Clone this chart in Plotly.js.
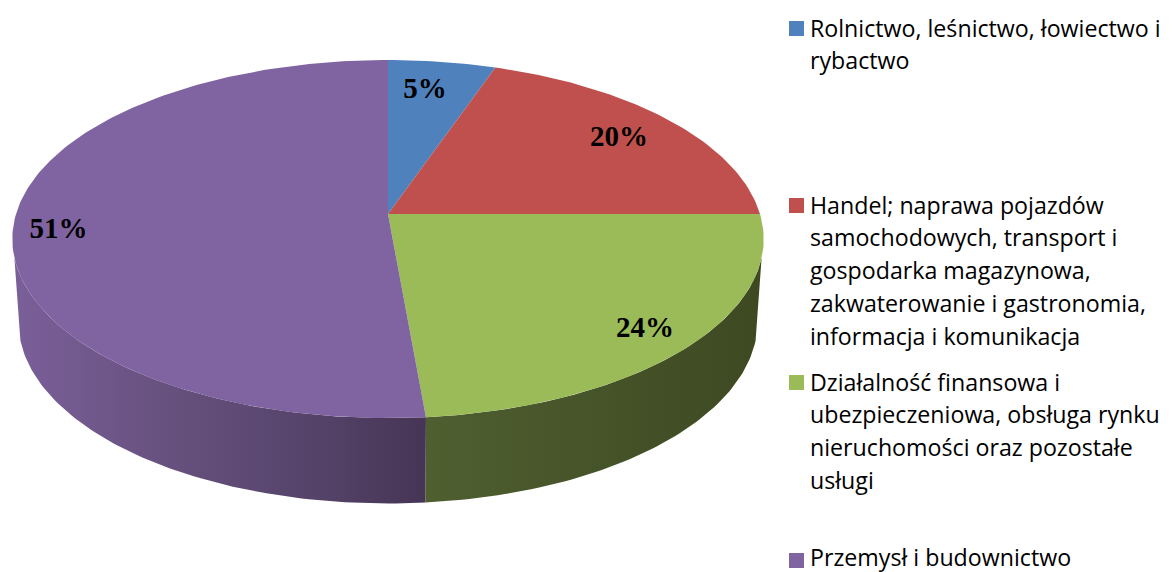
<!DOCTYPE html>
<html>
<head>
<meta charset="utf-8">
<script src="https://cdn.plot.ly/plotly-3.0.1.min.js"></script>
<style>html,body{margin:0;padding:0;background:#fff}#chart{width:1173px;height:572px}</style>
</head>
<body>
<div id="chart"></div>
<script>
// Data
var sectors = ["Rolnictwo, leśnictwo, łowiectwo i rybactwo",
  "Handel; naprawa pojazdów samochodowych, transport i gospodarka magazynowa, zakwaterowanie i gastronomia, informacja i komunikacja",
  "Działalność finansowa i ubezpieczeniowa, obsługa rynku nieruchomości oraz pozostałe usługi",
  "Przemysł i budownictwo"];
var shares = [5.3, 19.7, 23.6, 51.4];
var colors = ["#4f81bd", "#c0504d", "#9bbb59", "#8064a2"];
var legendLines = [
  ["Rolnictwo, leśnictwo, łowiectwo i", "rybactwo"],
  ["Handel; naprawa pojazdów", "samochodowych, transport i", "gospodarka magazynowa,", "zakwaterowanie i gastronomia,", "informacja i komunikacja"],
  ["Działalność finansowa i", "ubezpieczeniowa, obsługa rynku", "nieruchomości oraz pozostałe", "usługi"],
  ["Przemysł i budownictwo"]
];

// Layout of the drawing
var legendTop = [28.5, 205.5, 382.5, 560.5];
var legendTextTop = [27.5, 204.5, 381.5, 557];
var lineStep = 32.8;
var labelX = [425, 619, 645, 58.5], labelY = [91, 139, 330, 231];
var top3d = {cx: 388, cy: 214, a: 372, b: 175.5};
var bot3d = {cx: 388, cy: 296, a: 366, b: 178.4};
var K = -0.14;

function rim(p, deg) {
  var t = deg * Math.PI / 180, u = Math.sin(t), v = -Math.cos(t), d = 1 + K * v;
  return [p.cx + p.a * u / d, p.cy + p.b * v / d];
}
function arc(p, d1, d2) {
  var out = [], n = Math.max(2, Math.ceil(Math.abs(d2 - d1)));
  for (var i = 0; i <= n; i++) out.push(rim(p, d1 + (d2 - d1) * i / n));
  return out;
}
function poly(pts, color, extra) {
  var tr = {type: "scatter", mode: "lines", x: pts.map(function (q) { return q[0]; }), y: pts.map(function (q) { return q[1]; }),
    fill: "toself", fillcolor: color, line: {width: 0, color: color}, hoverinfo: "skip", showlegend: false};
  if (extra) for (var k in extra) tr[k] = extra[k];
  return tr;
}

var total = shares.reduce(function (a, b) { return a + b; }, 0);
var cum = [0];
shares.forEach(function (s, i) { cum.push(cum[i] + s / total * 360); });

var traces = [];
function wall(d1, d2, stops) {
  var pts = arc(top3d, d1, d2).concat(arc(bot3d, d2, d1));
  pts.push(pts[0]);
  traces.push(poly(pts, stops[0][1], {fillgradient: {type: "horizontal", colorscale: stops}}));
}
// side walls of the visible rim
wall(cum[2] + 14, cum[3], [[0, "#4f5f30"], [0.5, "#465429"], [1, "#3e4922"]]);
wall(cum[3], 256, [[0, "#7a5f99"], [0.35, "#685280"], [0.75, "#544268"], [1, "#463555"]]);
// top faces
shares.forEach(function (s, i) {
  var pts = [[top3d.cx, top3d.cy]].concat(arc(top3d, cum[i], cum[i + 1]));
  pts.push(pts[0]);
  traces.push(poly(pts, colors[i], {name: sectors[i]}));
});
// value labels
traces.push({type: "scatter", mode: "text", x: labelX, y: labelY,
  text: shares.map(function (s) { return Math.round(s) + "%"; }),
  textposition: "middle center", hoverinfo: "skip", showlegend: false, cliponaxis: false,
  textfont: {family: "Liberation Serif", size: 29, color: "#000", weight: 700}});
// legend keys
traces.push({type: "scatter", mode: "markers", x: legendTop.map(function () { return 796.5; }), y: legendTop,
  marker: {symbol: "square", size: 15, color: colors, line: {width: 0}}, hoverinfo: "skip", showlegend: false});

var annotations = [];
legendLines.forEach(function (lines, i) {
  lines.forEach(function (t, j) {
    annotations.push({x: 809, y: legendTextTop[i] + j * lineStep, xref: "x", yref: "y", text: t, showarrow: false,
      xanchor: "left", yanchor: "middle", align: "left", borderpad: 0,
      font: {family: "Open Sans", size: 23.2, color: "#000"}});
  });
});

Plotly.newPlot("chart", traces, {
  width: 1173, height: 572, margin: {l: 0, r: 0, t: 0, b: 0},
  paper_bgcolor: "#fff", plot_bgcolor: "#fff", showlegend: false,
  xaxis: {range: [0, 1173], visible: false, fixedrange: true},
  yaxis: {range: [572, 0], visible: false, fixedrange: true},
  annotations: annotations
}, {displayModeBar: false, staticPlot: true});
</script>
</body>
</html>
